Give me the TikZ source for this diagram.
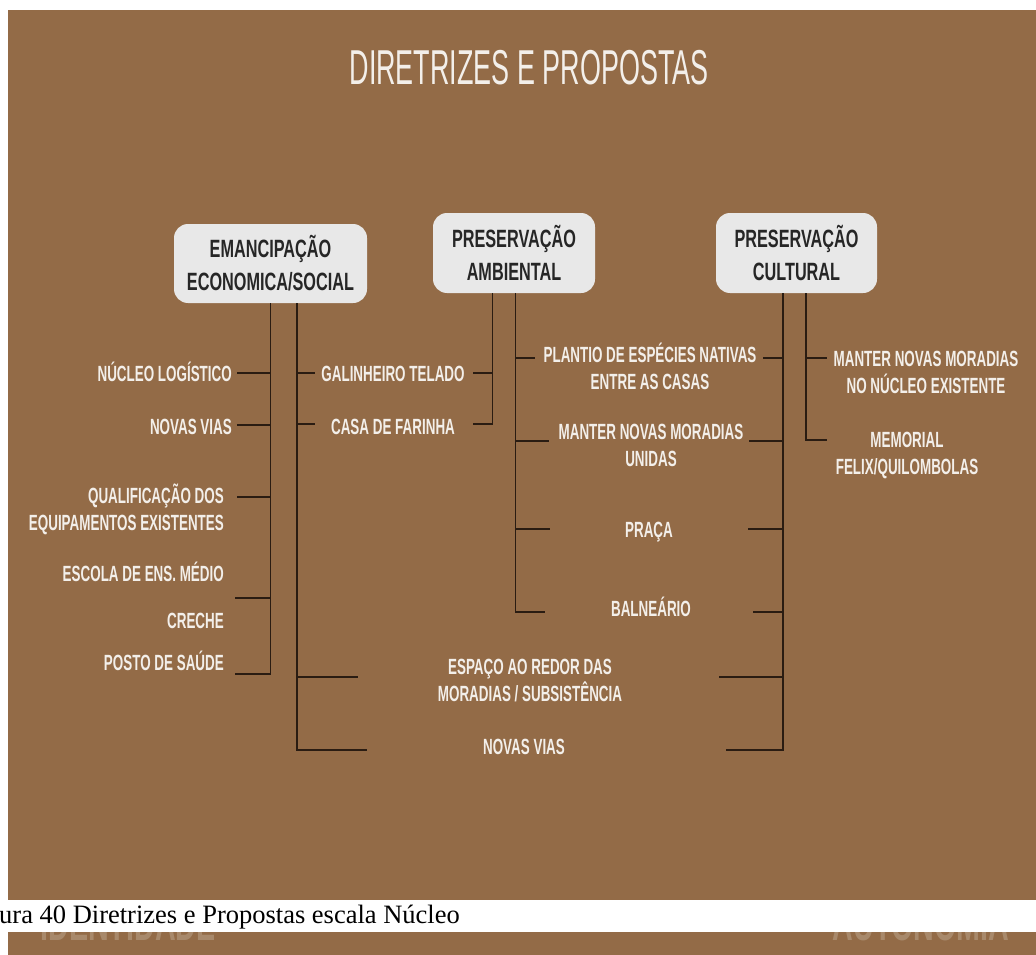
\documentclass[tikz,border=0pt]{standalone}
\usepackage{fontspec}
\setmainfont{Liberation Serif}
\newfontfamily\bebas{Liberation Sans}[FakeStretch=0.61]
\newfontfamily\bebasbox{Liberation Sans}[FakeStretch=0.65]
\newfontfamily\bebastitle{Liberation Sans}[FakeStretch=0.55]

\definecolor{bgbrown}{HTML}{936B47}
\definecolor{linebrown}{HTML}{2A1C12}
\definecolor{boxgray}{HTML}{E8E8E8}
\definecolor{labelwhite}{HTML}{F3EFEA}
\definecolor{fadebrown}{HTML}{A8896B}

\begin{document}
\begin{tikzpicture}[
  x=1pt, y=-1pt,
  tree/.style={draw=linebrown, line width=1.8pt},
  box/.style={fill=boxgray, rounded corners=14pt, inner sep=0pt, align=center,
    text=black!85, font=\bebasbox\bfseries\fontsize{25}{33}\selectfont},
  lbl/.style={inner sep=0pt, text=labelwhite, text height=16pt, text depth=0pt,
    font=\bebas\bfseries\fontsize{22}{27}\selectfont},
  lbls/.style={inner sep=0pt, text=labelwhite, align=center,
    font=\bebas\bfseries\fontsize{22}{27}\selectfont},
  fade/.style={anchor=base, inner sep=0pt, text=fadebrown,
    font=\bebas\bfseries\fontsize{47}{50}\selectfont}
  ]
  \useasboundingbox (0,0) rectangle (1036,955);
  \fill[white] (0,0) rectangle (1036,955);
  \fill[bgbrown] (8,10) rectangle (1036,955);

  \begin{scope}
    \clip (0,932) rectangle (1036,955);
    \node[fade] (ident) at (128,940) {IDENTIDADE};
    \node[fade] (auton) at (921,940) {AUTONOMIA};
  \end{scope}
  \fill[white] (0,900) rectangle (1036,932);
  \node[anchor=base west, inner sep=0pt, font=\fontsize{26.5}{30}\selectfont]
    (caption) at (-1,923) {ura 40 Diretrizes e Propostas escala Núcleo};

  \node[inner sep=0pt, text=labelwhite, text height=35pt, text depth=0pt,
    font=\bebastitle\fontsize{49}{55}\selectfont] (title) at (529,67)
    {DIRETRIZES E PROPOSTAS};

  \node[box, minimum width=193pt, minimum height=79pt] (emanc) at (270.5,263.5)
    {EMANCIPAÇÃO\\ECONOMICA/SOCIAL};
  \node[box, minimum width=162pt, minimum height=80pt] (pamb) at (514,253)
    {PRESERVAÇÃO\\AMBIENTAL};
  \node[box, minimum width=161pt, minimum height=80pt] (pcult) at (796.5,253)
    {PRESERVAÇÃO\\CULTURAL};

  \node[lbl, anchor=east] (nucleo) at (232,373) {NÚCLEO LOGÍSTICO};
  \node[lbl, anchor=east] (vias1) at (232,426) {NOVAS VIAS};
  \node[lbls, align=right, anchor=east] (qualif) at (224,509)
    {QUALIFICAÇÃO DOS\\EQUIPAMENTOS EXISTENTES};
  \node[lbl, anchor=east] (escola) at (224,573) {ESCOLA DE ENS. MÉDIO};
  \node[lbl, anchor=east] (creche) at (224,620) {CRECHE};
  \node[lbl, anchor=east] (posto) at (224,662) {POSTO DE SAÚDE};
  \node[lbl] (galinh) at (393,373) {GALINHEIRO TELADO};
  \node[lbl] (farinha) at (393,426) {CASA DE FARINHA};
  \node[lbls] (plantio) at (650,366.5) {PLANTIO DE ESPÉCIES NATIVAS\\ENTRE AS CASAS};
  \node[lbls] (unidas) at (651,445.5) {MANTER NOVAS MORADIAS\\UNIDAS};
  \node[lbl] (praca) at (649,529) {PRAÇA};
  \node[lbl] (balnea) at (651,608) {BALNEÁRIO};
  \node[lbls] (espaco) at (530,681) {ESPAÇO AO REDOR DAS\\MORADIAS / SUBSISTÊNCIA};
  \node[lbl] (vias2) at (524,746) {NOVAS VIAS};
  \node[lbls] (existe) at (926,372) {MANTER NOVAS MORADIAS\\NO NÚCLEO EXISTENTE};
  \node[lbls] (memorial) at (907,455) {MEMORIAL\\FELIX/QUILOMBOLAS};

  % trunks under the boxes
  \coordinate (eL) at (emanc.south);
  \coordinate (eR) at ([xshift=26.5pt]emanc.south);
  \coordinate (pL) at ([xshift=-21.5pt]pamb.south);
  \coordinate (pR) at ([xshift=1.5pt]pamb.south);
  \coordinate (cL) at ([xshift=-13.5pt]pcult.south);
  \coordinate (cR) at ([xshift=9.5pt]pcult.south);

  % free ends of the branches
  \coordinate (sNL) at (237,373);
  \coordinate (sNV) at (237,425);
  \coordinate (sQE) at (237,497);
  \coordinate (sEC) at (235,598);
  \coordinate (sPS) at (235,674);
  \coordinate (sGTa) at (315,373);
  \coordinate (sCFa) at (315,424);
  \coordinate (sERa) at (358,677);
  \coordinate (sNVa) at (367,750);
  \coordinate (sGTb) at (473,373);
  \coordinate (sCFb) at (473,424);
  \coordinate (sPNa) at (535,358);
  \coordinate (sMUa) at (549,441);
  \coordinate (sPRa) at (550,529);
  \coordinate (sBAa) at (545,612);
  \coordinate (sPNb) at (763,358);
  \coordinate (sMUb) at (749,441);
  \coordinate (sPRb) at (748,529);
  \coordinate (sBAb) at (753,612);
  \coordinate (sERb) at (719,677);
  \coordinate (sNVb) at (726,750);
  \coordinate (sMN) at (827,358);
  \coordinate (sME) at (827,440);

  \draw[tree] (eL) |- (sPS);
  \draw[tree] (eR) |- (sNVa);
  \draw[tree] (pL) |- (sCFb);
  \draw[tree] (pR) |- (sBAa);
  \draw[tree] (cL) |- (sNVb);
  \draw[tree] (cR) |- (sME);

  \foreach \s/\t in {sNL/eL, sNV/eL, sQE/eL, sEC/eL, sGTa/eR, sCFa/eR, sERa/eR,
      sGTb/pL, sPNa/pR, sMUa/pR, sPRa/pR, sPNb/cL, sMUb/cL, sPRb/cL, sBAb/cL,
      sERb/cL, sMN/cR}
    \draw[tree] (\s -| \t) -- (\s);
\end{tikzpicture}
\end{document}
